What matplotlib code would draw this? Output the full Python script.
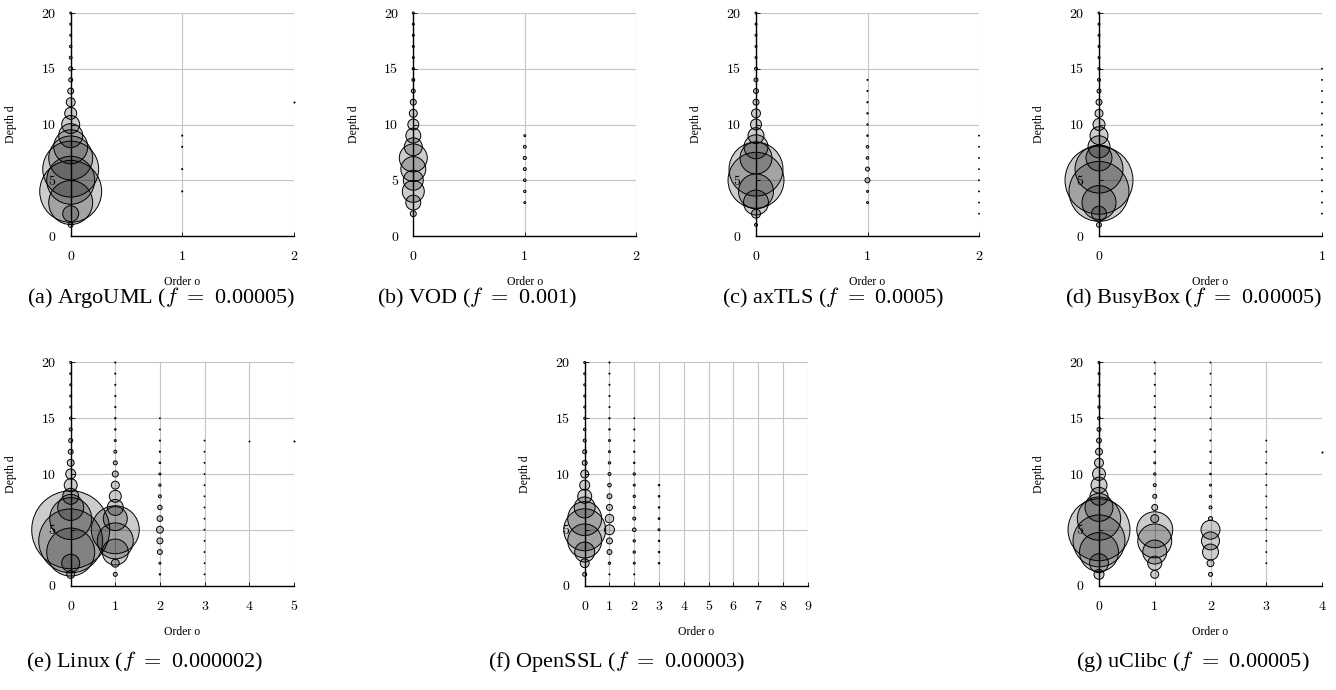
import numpy as np
import matplotlib.pyplot as plt

plt.rcParams['mathtext.fontset'] = 'cm'

W, H = 1336, 690
DEPTHS = np.arange(1, 21)

# relative sizes per depth 1..20, one list per order o
argouml_o0 = [6, 64, 484, 961, 576, 784, 484, 289, 144, 81, 36, 20, 9, 4, 4, 2, 1.5, 1, 1, 1]
argouml_o1 = [0, 0, 0, 0.3, 0, 0.3, 0, 0.3, 0.3, 0, 0, 0, 0, 0, 0, 0, 0, 0, 0, 0]
argouml_o2 = [0, 0, 0, 0, 0, 0, 0, 0, 0, 0, 0, 0.3, 0, 0, 0, 0, 0, 0, 0, 0]

vod_o0 = [0, 9, 56, 121, 100, 156, 196, 81, 56, 30, 16, 9, 4, 2.2, 1.4, 1, 1, 1, 1, 1]
vod_o1 = [0, 0, 1, 1.4, 1.7, 2.2, 2.5, 2, 1, 0, 0, 0, 0, 0, 0, 0, 0, 0, 0, 0]

axtls_o0 = [2.2, 20, 156, 306, 784, 729, 256, 144, 64, 30, 20, 9, 6, 4, 2.2, 1, 1, 1, 1, 1]
axtls_o1 = [0, 0, 1, 1, 6.3, 4, 1.7, 1.7, 0.6, 0.5, 0.5, 0.4, 0.3, 0.3, 0, 0, 0, 0, 0, 0]
axtls_o2 = [0, 0.2, 0.2, 0.2, 0.2, 0.2, 0.2, 0.2, 0.2, 0, 0, 0, 0, 0, 0, 0, 0, 0, 0, 0]

busybox_o0 = [6, 56, 289, 900, 1156, 576, 169, 121, 81, 36, 16, 9, 4, 2.2, 1.4, 1, 1, 1, 1, 1]
busybox_o1 = [0, 0.2, 0.2, 0.2, 0.2, 0.2, 0.2, 0.2, 0.2, 0.2, 0.2, 0.2, 0.2, 0.2, 0.2, 0, 0, 0, 0, 0]

linux_o0 = [16, 81, 576, 1024, 1521, 441, 169, 64, 42, 25, 12, 6, 4, 2.2, 1.4, 1, 1, 1, 1, 1]
linux_o1 = [4, 16, 169, 324, 576, 144, 64, 36, 16, 9, 4, 2.2, 1, 0.6, 0.5, 0.4, 0.3, 0.3, 0.3, 0.3]
linux_o2 = [0.5, 1, 6, 9, 12, 8, 5, 2.2, 1.4, 1, 0.6, 0.4, 0.3, 0.2, 0.2, 0, 0, 0, 0, 0]
linux_o3 = [0.2, 0.2, 0.2, 0.2, 0.2, 0.2, 0.2, 0.2, 0.2, 0.2, 0.2, 0.2, 0.2, 0, 0, 0, 0, 0, 0, 0]
linux_o4 = [0, 0, 0, 0, 0, 0, 0, 0, 0, 0, 0, 0, 0.2, 0, 0, 0, 0, 0, 0, 0]
linux_o5 = [0, 0, 0, 0, 0, 0, 0, 0, 0, 0, 0, 0, 0.3, 0, 0, 0, 0, 0, 0, 0]

openssl_o0 = [4, 20, 100, 289, 441, 289, 110, 49, 25, 16, 6, 4, 2.2, 1.4, 1, 1, 1, 1, 1, 1]
openssl_o1 = [0.3, 1.4, 6, 9, 25, 18, 9, 6, 3.2, 2.2, 1.4, 1, 1, 0.6, 0.5, 0.3, 0.3, 0.3, 0.3, 0.3]
openssl_o2 = [0.3, 1, 1.4, 1.4, 3.2, 2.2, 1.4, 1.4, 1, 1.4, 0.6, 0.5, 0.3, 0.3, 0.2, 0, 0, 0, 0, 0]
openssl_o3 = [0, 0.6, 0.6, 0.6, 1, 0.8, 0.6, 0.6, 0.6, 0, 0, 0, 0, 0, 0, 0, 0, 0, 0, 0]

uclibc_o0 = [25, 90, 380, 676, 961, 470, 196, 81, 64, 42, 20, 12, 6, 4, 2.2, 1.4, 1, 1, 1, 1]
uclibc_o1 = [16, 49, 144, 289, 324, 16, 9, 4, 2.2, 1.4, 1, 0.6, 0.5, 0.4, 0.3, 0.3, 0.3, 0.3, 0.3, 0.3]
uclibc_o2 = [4, 12, 64, 81, 90, 4, 2.2, 1.4, 1, 0.6, 0.5, 0.4, 0.3, 0.3, 0.2, 0.2, 0.2, 0.2, 0.2, 0.2]
uclibc_o3 = [0, 0.2, 0.2, 0.2, 0.2, 0.2, 0.2, 0.2, 0.2, 0.2, 0.2, 0.2, 0.2, 0, 0, 0, 0, 0, 0, 0]
uclibc_o4 = [0, 0, 0, 0, 0, 0, 0, 0, 0, 0, 0, 0.3, 0, 0, 0, 0, 0, 0, 0, 0]

captions = ['(a) ArgoUML', '(b) VOD', '(c) axTLS', '(d) BusyBox',
            '(e) Linux', '(f) OpenSSL', '(g) uClibc']
f_values = ['0.00005', '0.001', '0.0005', '0.00005', '0.000002', '0.00003', '0.00005']
x_max = [2, 2, 2, 1, 5, 9, 4]
series = [
    [argouml_o0, argouml_o1, argouml_o2],
    [vod_o0, vod_o1],
    [axtls_o0, axtls_o1, axtls_o2],
    [busybox_o0, busybox_o1],
    [linux_o0, linux_o1, linux_o2, linux_o3, linux_o4, linux_o5],
    [openssl_o0, openssl_o1, openssl_o2, openssl_o3],
    [uclibc_o0, uclibc_o1, uclibc_o2, uclibc_o3, uclibc_o4],
]

# layout in pixels: axes left, top; caption centre x, y
boxes = [(70.7, 13), (413.3, 13), (756, 13), (1099, 13),
         (70.7, 362.5), (584.7, 362.5), (1099, 362.5)]
cap_pos = [(161, 298), (477, 298), (833, 298), (1194, 298),
           (145, 662), (617, 662), (1193, 662)]
AX = 223
SCALE = 2.07  # size value -> points^2 at 100 dpi

fig = plt.figure(figsize=(W / 100, H / 100), dpi=100)

for i in range(7):
    lx, ty = boxes[i]
    ax = fig.add_axes([lx / W, 1 - (ty + AX) / H, AX / W, AX / H])
    for o, vals in enumerate(series[i]):
        vals = np.array(vals, dtype=float)
        m = vals > 0
        ax.scatter(np.full(m.sum(), o), DEPTHS[m], s=vals[m] * SCALE,
                   facecolor=(0, 0, 0, 0.2), edgecolor='black',
                   linewidth=0.7, clip_on=False, zorder=3)
    ax.set_xlim(0, x_max[i])
    ax.set_ylim(0, 20)
    ax.set_xticks(range(x_max[i] + 1))
    ax.set_yticks([0, 5, 10, 15, 20])
    ax.grid(True, color='#c4c4c4', linewidth=0.8)
    ax.set_axisbelow(True)
    for s in ['top', 'right']:
        ax.spines[s].set_visible(False)
    for s in ['left', 'bottom']:
        ax.spines[s].set_linewidth(1.0)
    ax.tick_params(direction='in', length=3, width=0.6, pad=11,
                   labelsize=10, labelfontfamily='cmr10', colors='black')
    ax.set_xlabel('Order o', fontsize=8.5, family='Liberation Serif')
    ax.set_ylabel('Depth d', fontsize=8.5, family='Liberation Serif')
    top_row = i < 4
    ax.xaxis.set_label_coords(0.5, -0.178 if top_row else -0.183)
    ax.yaxis.set_label_coords(-0.24, 0.5)

    cx, cy = cap_pos[i]
    fig.text(cx / W, 1 - cy / H, captions[i] + ' ($f\\ =\\ $' + f_values[i] + ')',
             ha='center', va='center', fontsize=16, family='Liberation Serif')

fig.savefig('out.png', dpi=100)
